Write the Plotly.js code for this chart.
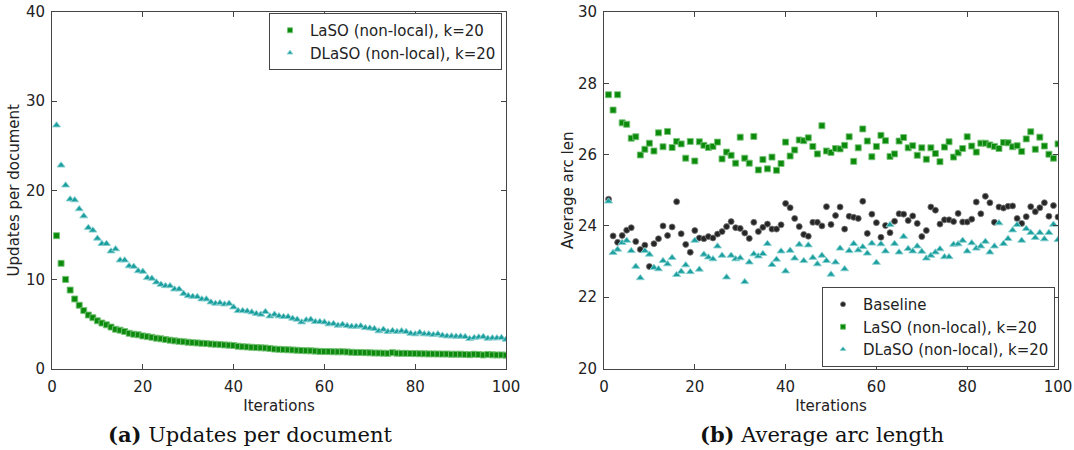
<!DOCTYPE html>
<html>
<head>
<meta charset="utf-8">
<script src="https://cdn.plot.ly/plotly-3.0.1.min.js"></script>
<style>
html,body{margin:0;padding:0;background:#fff;}
#chart{width:1074px;height:450px;}
</style>
</head>
<body>
<div id="chart"></div>
<script>
// ---- data ----
var iterations = [];
for (var k = 1; k <= 100; k++) iterations.push(k);

var xTicks = [0, 20, 40, 60, 80, 100];
var yTicksLeft = [0, 10, 20, 30, 40];
var yTicksRight = [20, 22, 24, 26, 28, 30];

var seriesNames = ['Baseline', 'LaSO (non-local), k=20', 'DLaSO (non-local), k=20'];

// (a) Updates per document
var lasoUpdates = [
 14.9,11.8,10.0,8.8,7.8,7.1,6.5,6.0,5.7,5.35,
 5.1,4.9,4.65,4.4,4.3,4.15,3.95,3.85,3.78,3.66,
 3.58,3.5,3.4,3.33,3.25,3.18,3.1,3.05,3.0,2.95,
 2.9,2.87,2.83,2.8,2.75,2.72,2.68,2.65,2.62,2.58,
 2.5,2.45,2.42,2.38,2.35,2.32,2.3,2.25,2.18,2.15,
 2.12,2.1,2.08,2.05,2.02,2.0,1.98,1.95,1.92,1.9,
 1.9,1.88,1.87,1.88,1.86,1.82,1.8,1.8,1.78,1.76,
 1.74,1.73,1.72,1.7,1.78,1.72,1.7,1.7,1.68,1.67,
 1.66,1.65,1.64,1.64,1.63,1.62,1.62,1.6,1.6,1.6,
 1.58,1.55,1.6,1.57,1.52,1.58,1.53,1.52,1.52,1.5];

var dlasoUpdates = [
 27.3,22.8,20.56,19.0,18.9,17.9,17.1,15.8,15.5,14.6,
 14.0,14.0,13.16,13.4,12.15,12.15,11.5,11.44,10.95,10.88,
 10.17,10.1,9.68,9.42,9.27,9.27,8.9,8.9,8.4,8.15,
 8.07,8.04,7.78,7.78,7.44,7.29,7.36,7.21,7.29,6.88,
 6.47,6.47,6.43,6.32,6.15,6.07,6.36,5.87,6.07,5.88,
 5.8,5.8,5.62,5.5,5.2,5.43,5.5,5.24,5.24,5.2,
 4.98,5.02,4.83,4.94,4.79,4.72,4.72,4.76,4.57,4.53,
 4.46,4.2,4.38,4.12,4.23,4.12,4.2,4.12,3.93,3.86,
 4.04,3.86,3.86,3.78,3.86,3.71,3.63,3.63,3.6,3.6,
 3.56,3.33,3.45,3.52,3.56,3.37,3.41,3.41,3.45,3.26];

// (b) Average arc length
var baselineArc = [
 24.75,23.72,23.54,23.73,23.88,23.95,23.56,23.34,23.46,22.86,
 23.5,23.64,24.0,23.73,23.97,24.68,23.78,23.48,23.26,23.87,
 23.66,23.64,23.7,23.66,23.77,23.84,23.98,24.12,23.95,23.93,
 23.8,23.65,24.1,23.84,23.96,24.05,23.91,23.91,24.03,24.63,
 24.51,24.21,23.98,23.76,23.71,24.1,24.1,24.0,24.54,24.04,
 24.29,24.53,23.91,24.27,24.24,24.21,24.69,23.79,24.33,24.09,
 23.68,24.01,23.81,24.13,24.34,24.33,24.15,24.28,24.07,23.7,
 23.87,24.53,24.44,24.05,24.17,24.17,24.12,24.35,24.11,24.11,
 24.19,24.67,24.34,24.83,24.65,24.1,24.53,24.5,24.55,24.56,
 24.21,24.07,24.26,24.54,24.4,24.51,24.65,24.27,24.57,24.25];

var lasoArc = [
 27.68,27.25,27.68,26.89,26.85,26.46,26.5,25.99,26.15,26.32,
 26.1,26.61,26.22,26.65,26.2,26.37,26.3,25.9,26.37,25.82,
 26.36,26.26,26.2,26.23,26.35,25.88,26.07,25.98,25.76,26.49,
 25.9,25.76,26.51,25.57,25.86,25.6,25.93,25.56,25.75,26.35,
 25.96,26.13,26.41,26.39,26.47,26.23,26.02,26.81,26.1,26.06,
 26.17,26.16,26.26,26.5,25.81,26.19,26.72,26.38,25.94,26.23,
 26.54,26.39,25.95,26.02,26.38,26.48,26.19,26.25,25.98,26.19,
 25.87,26.19,26.03,25.8,26.21,26.36,25.93,26.05,26.17,26.5,
 26.24,26.07,26.32,26.32,26.27,26.23,26.17,26.34,26.33,26.22,
 26.25,26.09,26.44,26.64,26.15,26.49,26.24,26.01,25.9,26.3];

var dlasoArc = [
 24.69,23.25,23.34,23.53,23.59,23.3,22.86,22.54,23.3,23.2,
 22.83,22.79,23.02,22.93,23.11,22.63,22.72,22.9,22.71,23.59,
 22.78,23.2,23.12,23.07,23.43,23.17,22.56,23.17,23.07,23.1,
 22.43,22.98,23.21,23.15,23.22,23.5,22.91,23.06,23.29,22.73,
 23.31,23.09,23.48,23.02,23.46,23.11,22.93,23.17,23.02,22.64,
 22.98,23.37,22.79,23.3,23.5,23.32,23.41,23.23,23.51,22.97,
 23.49,23.29,24.03,23.5,23.26,23.7,23.36,23.29,23.43,23.28,
 23.09,23.17,23.26,23.35,23.13,23.13,23.48,23.49,23.59,23.29,
 23.52,23.37,23.43,23.56,23.26,23.43,24.08,23.5,23.64,23.88,
 24.03,23.59,23.92,23.81,23.67,23.81,23.63,23.81,24.04,23.61];

// ---- styles ----
var SANS = 'DejaVu Sans, Liberation Sans, Arial, sans-serif';
var SERIF = 'DejaVu Serif, Liberation Serif, serif';
var W = 1074, H = 450;

var styles = {
  base:  {symbol: 'circle', color: '#262626', size: 6, line: {color: 'rgba(120,120,120,0.8)', width: 1}},
  laso:  {symbol: 'square', color: '#0b8a0b', size: 6, line: {color: 'rgba(120,195,120,0.9)', width: 1}},
  dlaso: {symbol: 'triangle-up', color: '#1b9e9e', size: 7, line: {color: 'rgba(140,210,210,0.9)', width: 1}}
};
function mk(st, size) {
  return {symbol: st.symbol, color: st.color, size: size || st.size, line: st.line};
}
function pts(x, y, st, xa, ya) {
  return {type: 'scatter', mode: 'markers', x: x, y: y, xaxis: xa, yaxis: ya,
          marker: mk(st), showlegend: false, hoverinfo: 'x+y', cliponaxis: true};
}
function leg(name, st, xa, ya, legend, grp) {
  return {type: 'scatter', mode: 'markers', x: [null], y: [null], xaxis: xa, yaxis: ya,
          name: name, marker: mk(st, 5), showlegend: true, legend: legend, legendgroup: grp};
}

var data = [
  pts(iterations, lasoUpdates, styles.laso, 'x', 'y'),
  pts(iterations, dlasoUpdates, styles.dlaso, 'x', 'y'),
  pts(iterations, baselineArc, styles.base, 'x2', 'y2'),
  pts(iterations, lasoArc, styles.laso, 'x2', 'y2'),
  pts(iterations, dlasoArc, styles.dlaso, 'x2', 'y2'),
  leg(seriesNames[1], styles.laso, 'x', 'y', 'legend', 'a1'),
  leg(seriesNames[2], styles.dlaso, 'x', 'y', 'legend', 'a2'),
  leg(seriesNames[0], styles.base, 'x2', 'y2', 'legend2', 'b0'),
  leg(seriesNames[1], styles.laso, 'x2', 'y2', 'legend2', 'b1'),
  leg(seriesNames[2], styles.dlaso, 'x2', 'y2', 'legend2', 'b2')
];

var yTop = 1 - 12 / H, yBot = 1 - 368.5 / H;

function xax(dom) {
  return {domain: dom, range: [0, 100], tickvals: xTicks, ticks: 'inside', ticklen: 5,
          tickcolor: '#444', showline: true, linecolor: '#444', linewidth: 1, mirror: 'ticks',
          showgrid: false, zeroline: false, tickfont: {family: SANS, size: 15, color: '#222'},
          ticklabelstandoff: 4,
          title: {text: 'Iterations', font: {family: SANS, size: 15, color: '#222'}, standoff: 5}};
}
function yax(range, ticks, title, anchor, standoff) {
  return {domain: [yBot, yTop], range: range, tickvals: ticks, ticks: 'inside', ticklen: 5,
          tickcolor: '#444', showline: true, linecolor: '#444', linewidth: 1, mirror: 'ticks',
          showgrid: false, zeroline: false, tickfont: {family: SANS, size: 15, color: '#222'},
          anchor: anchor, ticklabelstandoff: 3,
          title: {text: title, font: {family: SANS, size: 15, color: '#222'}, standoff: standoff}};
}

var legendBase = {bordercolor: '#444', borderwidth: 1, bgcolor: '#fff',
                  font: {family: SANS, size: 15, color: '#222'},
                  traceorder: 'grouped', tracegroupgap: 0, itemclick: false,
                  entrywidthmode: 'pixels', entrywidth: 215};

var layout = {
  width: W, height: H,
  margin: {l: 0, r: 0, t: 0, b: 0, pad: 0},
  paper_bgcolor: '#fff', plot_bgcolor: '#fff',
  font: {family: SANS, size: 15, color: '#222'},
  xaxis: Object.assign(xax([52 / W, 506 / W]), {anchor: 'y'}),
  yaxis: yax([0, 40], yTicksLeft, 'Updates per document', 'x', 2),
  xaxis2: Object.assign(xax([604 / W, 1058 / W]), {anchor: 'y2'}),
  yaxis2: yax([20, 30], yTicksRight, 'Average arc len', 'x2', 0),
  legend: Object.assign({x: 502 / W, xanchor: 'right', y: 1 - 13 / H, yanchor: 'top'}, legendBase),
  legend2: Object.assign({x: 1055 / W, xanchor: 'right', y: 1 - 367 / H, yanchor: 'bottom'}, legendBase),
  annotations: [
    {xref: 'paper', yref: 'paper', x: 250 / W, y: 1 - 434 / H, xanchor: 'center', yanchor: 'middle',
     showarrow: false, text: '<b>(a)</b> Updates per document',
     font: {family: SERIF, size: 21, color: '#111'}},
    {xref: 'paper', yref: 'paper', x: 822 / W, y: 1 - 434 / H, xanchor: 'center', yanchor: 'middle',
     showarrow: false, text: '<b>(b)</b> Average arc length',
     font: {family: SERIF, size: 21, color: '#111'}}
  ]
};

Plotly.newPlot('chart', data, layout, {displayModeBar: false, staticPlot: true});
</script>
</body>
</html>
